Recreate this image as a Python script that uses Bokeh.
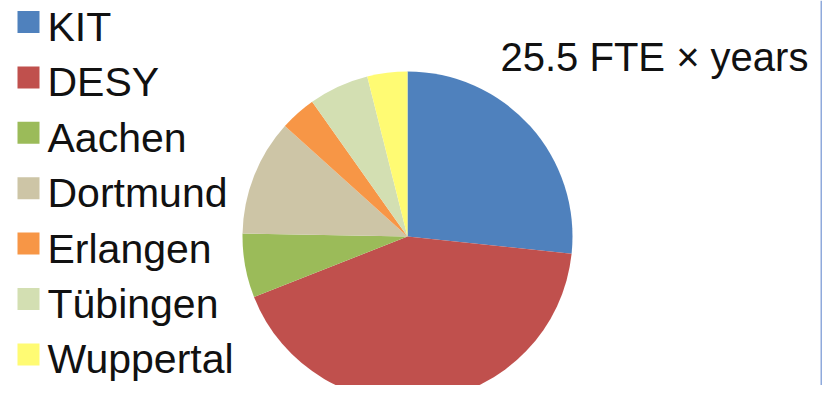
import numpy as np
from bokeh.plotting import figure
from bokeh.models import Range1d, ColumnDataSource, Span
from bokeh.core.properties import value
from bokeh.embed import file_html
from bokeh.resources import INLINE

# ---- data ----
institutes = ["KIT", "DESY", "Aachen", "Dortmund", "Erlangen", "Tübingen", "Wuppertal"]
fte_years = [6.8, 10.8, 1.6, 2.9, 0.9, 1.5, 1.0]
colors = ["#4F81BD", "#C0504D", "#9BBB59", "#CDC5A6", "#F79646", "#D3DFB2", "#FFFB73"]
total_label = "25.5 FTE \u00d7 years"

W, H = 822, 385
FONT = "Liberation Sans"
BASE_SHIFT = 15  # svg alphabetic baseline correction (px)

p = figure(width=W, height=H, x_range=Range1d(0, W), y_range=Range1d(0, H),
           output_backend="svg", toolbar_location=None, min_border=0,
           x_axis_location=None, y_axis_location=None)
p.grid.visible = False
p.outline_line_color = None
p.background_fill_color = "white"
p.border_fill_color = "white"

# ---- pie ----
vals = np.array(fte_years, dtype=float)
frac = vals / vals.sum()
ends = np.pi / 2 - 2 * np.pi * np.cumsum(frac)
starts = np.concatenate([[np.pi / 2], ends[:-1]])
src = ColumnDataSource(dict(name=institutes, value=fte_years,
                            start=starts, end=ends, color=colors))
cx, cy, r = 407, H - 236, 165
p.wedge(x=cx, y=cy, radius=r, radius_units="screen",
        start_angle="start", end_angle="end", direction="clock",
        fill_color="color", line_color=None, source=src)

# ---- legend (manual) ----
idx = np.arange(len(institutes))
step = 55.4
leg = ColumnDataSource(dict(
    name=institutes, color=colors,
    sy=H - (21.5 + step * idx),
    ty=H - (41.5 - BASE_SHIFT + step * idx),
))
p.rect(x=28, y="sy", width=22, height=22, width_units="screen", height_units="screen",
       fill_color="color", line_color=None, source=leg)
p.text(x=47, y="ty", text="name", text_font=value(FONT), text_font_size="41px",
       text_baseline="alphabetic", text_align="left", text_color="#111111", source=leg)

# ---- total label ----
p.text(x=[500], y=[H - (71.7 - BASE_SHIFT)], text=[total_label], text_font=value(FONT),
       text_font_size="40px", text_baseline="alphabetic", text_align="left",
       text_color="#111111")

# ---- right border line ----
p.add_layout(Span(location=821, dimension="height", line_color="#8FAADC", line_width=2))

open("out.html", "w").write(file_html(p, INLINE))
